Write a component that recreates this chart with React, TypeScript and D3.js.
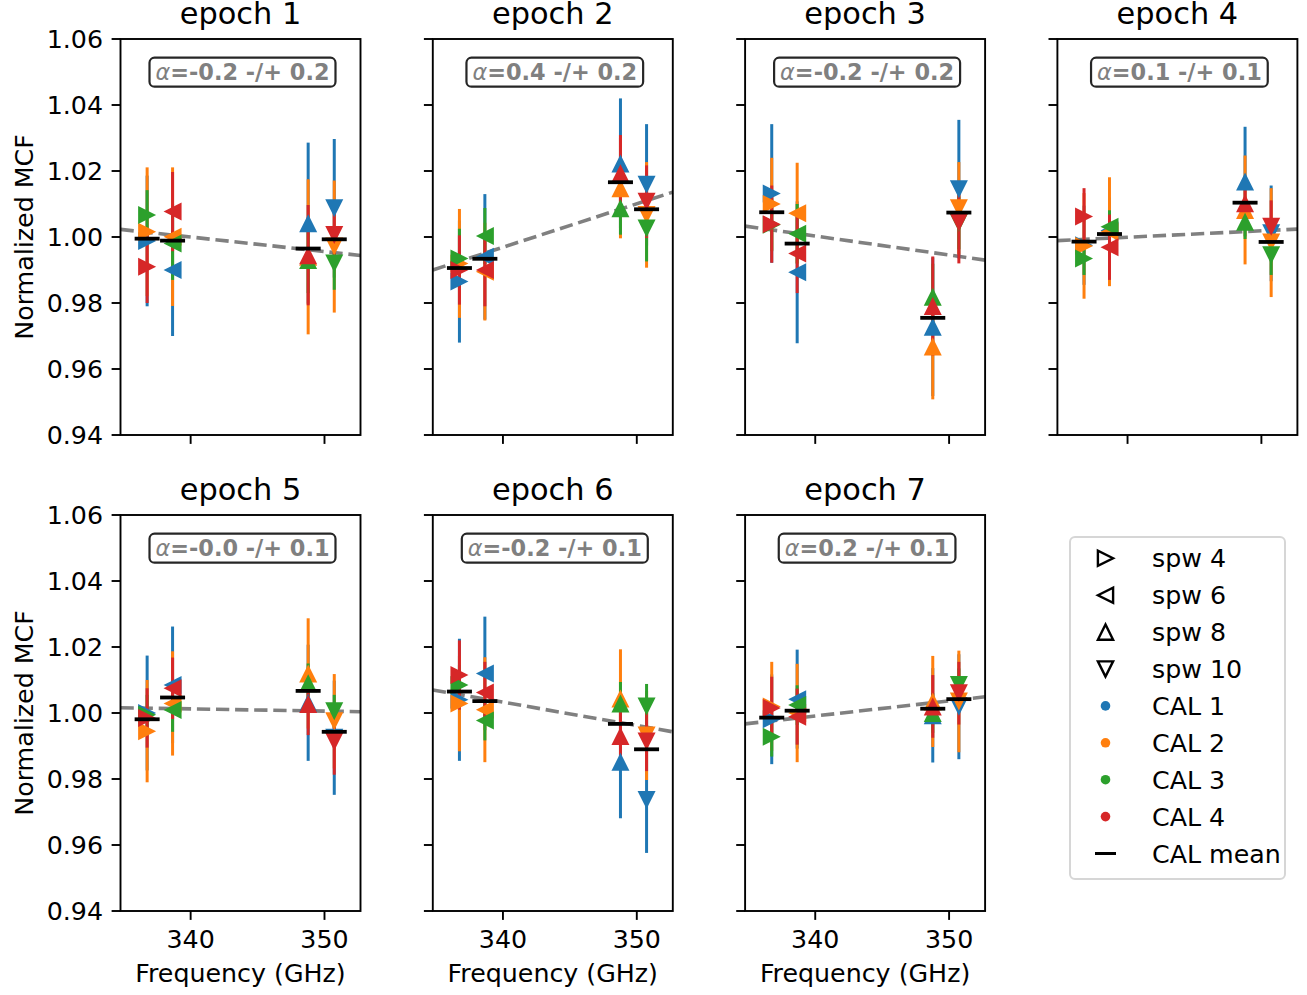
import React, { useLayoutEffect, useRef, useState } from "react";
import * as d3 from "d3";

// ---------- data ----------
const epochNames = ["epoch 1", "epoch 2", "epoch 3", "epoch 4", "epoch 5", "epoch 6", "epoch 7"];
const spwNames = ["spw 4", "spw 6", "spw 8", "spw 10"];
const spwFreqGHz = [336.75, 338.65, 348.78, 350.73];
const spwShapes = ["right", "left", "up", "down"];
const calNames = ["CAL 1", "CAL 2", "CAL 3", "CAL 4"];
const calColors = ["#1f77b4", "#ff7f0e", "#2ca02c", "#d62728"];
const alphaLabels = ["-0.2 -/+ 0.2", "0.4 -/+ 0.2", "-0.2 -/+ 0.2", "0.1 -/+ 0.1", "-0.0 -/+ 0.1", "-0.2 -/+ 0.1", "0.2 -/+ 0.1"];
const xLimits = [334.76, 352.69];
const yLimits = [0.94, 1.06];
const xTicks = [340, 350];
const yTicks = [0.94, 0.96, 0.98, 1.0, 1.02, 1.04, 1.06];
// power-law fit evaluated at the x-axis limits
const fitAtXmin = [1.0023, 0.990, 1.0033, 0.9989, 1.0016, 1.007, 0.9967];
const fitAtXmax = [0.9944, 1.0136, 0.993, 1.0024, 1.0004, 0.9943, 1.0049];

// rows: spw 4, 6, 8, 10 ; columns: CAL 1..4
const mcfEpoch1 = [[0.9988, 1.0016, 1.0067, 0.991], [0.990, 1.0001, 0.998, 1.0077], [1.0042, 0.994, 0.993, 0.9945], [1.0087, 0.9971, 0.992, 1.0006]];
const errEpoch1 = [[0.0198, 0.0195, 0.0075, 0.011], [0.020, 0.021, 0.011, 0.012], [0.0244, 0.0235, 0.010, 0.0152], [0.021, 0.020, 0.008, 0.0076]];
const mcfEpoch2 = [[0.9865, 0.992, 0.9935, 0.990], [0.994, 0.9895, 1.0003, 0.990], [1.0223, 1.0148, 1.0087, 1.0193], [1.0158, 1.0067, 1.0026, 1.0107]];
const errEpoch2 = [[0.0185, 0.0165, 0.009, 0.0105], [0.019, 0.0148, 0.0085, 0.011], [0.0197, 0.0152, 0.008, 0.0116], [0.0184, 0.016, 0.010, 0.011]];
const mcfEpoch3 = [[1.0132, 1.010, 1.0037, 1.0039], [0.9893, 1.0072, 1.001, 0.995], [0.9728, 0.9668, 0.9819, 0.9791], [1.0145, 1.0087, 1.0043, 1.0044]];
const errEpoch3 = [[0.021, 0.014, 0.008, 0.0117], [0.0215, 0.0153, 0.009, 0.012], [0.021, 0.016, 0.010, 0.015], [0.021, 0.014, 0.008, 0.0124]];
const mcfEpoch4 = [[0.9975, 0.9973, 0.9935, 1.0062], [1.002, 1.0016, 1.0031, 0.9969], [1.0168, 1.0082, 1.0046, 1.0102], [1.0011, 0.9983, 0.9945, 1.0031]];
const errEpoch4 = [[0.012, 0.016, 0.005, 0.0086], [0.010, 0.0165, 0.005, 0.0099], [0.0166, 0.0165, 0.0052, 0.007], [0.0145, 0.0165, 0.006, 0.008]];
const mcfEpoch5 = [[1.000, 0.9945, 0.9995, 0.9985], [1.0085, 1.0029, 1.0009, 1.0075], [1.0031, 1.012, 1.009, 1.0027], [0.9925, 0.9975, 1.0005, 0.9913]];
const errEpoch5 = [[0.0174, 0.0155, 0.006, 0.009], [0.0177, 0.0158, 0.0066, 0.0093], [0.0176, 0.0167, 0.006, 0.0094], [0.0173, 0.0143, 0.005, 0.010]];
const mcfEpoch6 = [[1.004, 1.0029, 1.0085, 1.0115], [1.012, 1.001, 0.9977, 1.0062], [0.9852, 1.0044, 1.0029, 0.993], [0.9736, 0.9932, 1.002, 0.9914]];
const errEpoch6 = [[0.0185, 0.0145, 0.006, 0.0105], [0.0172, 0.0159, 0.006, 0.0093], [0.0171, 0.0149, 0.0065, 0.0095], [0.016, 0.0135, 0.0068, 0.009]];
const mcfEpoch7 = [[0.9981, 1.002, 0.9928, 1.0015], [1.0042, 1.000, 1.0024, 0.9989], [0.9993, 1.0035, 1.000, 1.002], [1.0019, 1.0035, 1.0085, 1.006]];
const errEpoch7 = [[0.0136, 0.0135, 0.006, 0.0095], [0.015, 0.0149, 0.006, 0.0085], [0.0143, 0.0138, 0.006, 0.0095], [0.0159, 0.0154, 0.005, 0.0095]];
const calMean = [
  [0.9995, 0.9989, 0.9965, 0.9993],
  [0.9906, 0.9934, 1.0166, 1.0084],
  [1.0075, 0.998, 0.9755, 1.0074],
  [0.9986, 1.0009, 1.0104, 0.9985],
  [0.9981, 1.0047, 1.0067, 0.9943],
  [1.0065, 1.0036, 0.9967, 0.989],
  [0.9986, 1.0007, 1.0013, 1.0042],
];

const mcfByEpoch = [mcfEpoch1, mcfEpoch2, mcfEpoch3, mcfEpoch4, mcfEpoch5, mcfEpoch6, mcfEpoch7];
const errByEpoch = [errEpoch1, errEpoch2, errEpoch3, errEpoch4, errEpoch5, errEpoch6, errEpoch7];

// ---------- layout ----------
const W = 1307;
const H = 995;
const colLefts = [120.5, 432.8, 745.1, 1057.4];
const rowTops = [39, 515];
const PW = 240;
const PH = 396;
const FONT = "DejaVu Sans, Verdana, sans-serif";
const FS = 25.3;
const TICK = 8.9;
const MS = 9; // triangle half-size

function triPath(shape: string, x: number, y: number, s: number) {
  if (shape === "right") return `M${x + s},${y}L${x - s},${y - s}L${x - s},${y + s}Z`;
  if (shape === "left") return `M${x - s},${y}L${x + s},${y - s}L${x + s},${y + s}Z`;
  if (shape === "up") return `M${x},${y - s}L${x - s},${y + s}L${x + s},${y + s}Z`;
  return `M${x},${y + s}L${x - s},${y - s}L${x + s},${y - s}Z`;
}

function AlphaBox({ cx, top, label }: { cx: number; top: number; label: string }) {
  const ref = useRef<SVGTextElement>(null);
  const [bb, setBb] = useState<{ x: number; w: number } | null>(null);
  useLayoutEffect(() => {
    if (ref.current) {
      const b = ref.current.getBBox();
      setBb({ x: b.x, w: b.width });
    }
  }, [label]);
  const padX = 6;
  const boxH = 29;
  const boxTop = top + 18.7;
  return (
    <g>
      {bb && (
        <rect x={bb.x - padX} y={boxTop} width={bb.w + 2 * padX} height={boxH} rx={5} ry={5}
          fill="white" stroke="#262626" strokeWidth={2.2} />
      )}
      <text ref={ref} x={cx} y={boxTop + boxH / 2 + 8} textAnchor="middle" fontFamily={FONT}
        fontSize={22.4} fill="#808080" fontWeight="bold">
        <tspan fontStyle="italic" fontWeight="normal">α</tspan>
        <tspan>={label}</tspan>
      </text>
    </g>
  );
}

function Panel({ idx }: { idx: number }) {
  const col = idx % 4;
  const row = Math.floor(idx / 4);
  const left = colLefts[col];
  const top = rowTops[row];
  const x = d3.scaleLinear().domain(xLimits).range([left, left + PW]);
  const y = d3.scaleLinear().domain(yLimits).range([top + PH, top]);
  const vals = mcfByEpoch[idx];
  const errs = errByEpoch[idx];
  const fitLine = d3.line<[number, number]>().x((d) => x(d[0])).y((d) => y(d[1]));
  const fitPts: [number, number][] = [[xLimits[0], fitAtXmin[idx]], [xLimits[1], fitAtXmax[idx]]];
  const showYLabels = col === 0;
  const showXLabels = row === 1;
  const cx = left + PW / 2;

  return (
    <g>
      <path d={fitLine(fitPts) || ""} fill="none" stroke="#808080" strokeWidth={3.6} strokeDasharray="13.3 5.8" />
      {calNames.map((_, c) =>
        spwFreqGHz.map((f, s) => (
          <line key={`b${c}-${s}`} x1={x(f)} x2={x(f)} y1={y(vals[s][c] - errs[s][c])} y2={y(vals[s][c] + errs[s][c])}
            stroke={calColors[c]} strokeWidth={3} />
        ))
      )}
      {calNames.map((_, c) =>
        spwFreqGHz.map((f, s) => (
          <path key={`m${c}-${s}`} d={triPath(spwShapes[s], x(f), y(vals[s][c]), MS)} fill={calColors[c]} />
        ))
      )}
      {spwFreqGHz.map((f, s) => (
        <line key={`mean${s}`} x1={x(f) - 12.5} x2={x(f) + 12.5} y1={y(calMean[idx][s])} y2={y(calMean[idx][s])}
          stroke="black" strokeWidth={3.8} />
      ))}
      <rect x={left} y={top} width={PW} height={PH} fill="none" stroke="black" strokeWidth={1.9} />
      {yTicks.map((t) => (
        <g key={`yt${t}`}>
          <line x1={left - TICK} x2={left} y1={y(t)} y2={y(t)} stroke="black" strokeWidth={1.9} />
          {showYLabels && (
            <text x={left - TICK - 8.6} y={y(t)} dy="0.36em" textAnchor="end" fontFamily={FONT} fontSize={FS} fill="black">
              {t.toFixed(2)}
            </text>
          )}
        </g>
      ))}
      {xTicks.map((t) => (
        <g key={`xt${t}`}>
          <line x1={x(t)} x2={x(t)} y1={top + PH} y2={top + PH + TICK} stroke="black" strokeWidth={1.9} />
          {showXLabels && (
            <text x={x(t)} y={top + PH + 37} textAnchor="middle" fontFamily={FONT} fontSize={FS} fill="black">
              {t}
            </text>
          )}
        </g>
      ))}
      {showXLabels && (
        <text x={cx} y={top + PH + 71} textAnchor="middle" fontFamily={FONT} fontSize={FS} fill="black">
          Frequency (GHz)
        </text>
      )}
      {showYLabels && (
        <text transform={`translate(32.5,${top + PH / 2}) rotate(-90)`} textAnchor="middle" fontFamily={FONT} fontSize={FS} fill="black">
          Normalized MCF
        </text>
      )}
      <text x={cx} y={top - 15} textAnchor="middle" fontFamily={FONT} fontSize={30.4} fill="black">
        {epochNames[idx]}
      </text>
      <AlphaBox cx={cx + 2} top={top} label={alphaLabels[idx]} />
    </g>
  );
}

function Legend() {
  const lx = 1070;
  const ly = 537;
  const lw = 215;
  const lh = 342;
  const mx = 1105.5;
  const tx = 1152;
  const rowY = (i: number) => 558.3 + i * 36.9;
  const rows: React.ReactNode[] = [];
  spwNames.forEach((n, i) => {
    rows.push(
      <g key={n}>
        <path d={triPath(spwShapes[i], mx, rowY(i), 7.6)} fill="none" stroke="black" strokeWidth={2.4} strokeLinejoin="miter" />
        <text x={tx} y={rowY(i)} dy="0.36em" fontFamily={FONT} fontSize={FS} fill="black">{n}</text>
      </g>
    );
  });
  calNames.forEach((n, i) => {
    const k = i + 4;
    rows.push(
      <g key={n}>
        <circle cx={mx} cy={rowY(k)} r={4.8} fill={calColors[i]} />
        <text x={tx} y={rowY(k)} dy="0.36em" fontFamily={FONT} fontSize={FS} fill="black">{n}</text>
      </g>
    );
  });
  rows.push(
    <g key="mean">
      <line x1={mx - 10.5} x2={mx + 10.5} y1={rowY(8)} y2={rowY(8)} stroke="black" strokeWidth={3} />
      <text x={tx} y={rowY(8)} dy="0.36em" fontFamily={FONT} fontSize={FS} fill="black">CAL mean</text>
    </g>
  );
  return (
    <g>
      <rect x={lx} y={ly} width={lw} height={lh} rx={5} ry={5} fill="white" stroke="#d6d6d6" strokeWidth={2} />
      {rows}
    </g>
  );
}

export default function App() {
  return (
    <svg width={W} height={H} viewBox={`0 0 ${W} ${H}`}
      style={{ position: "absolute", left: 0, top: 0, display: "block", background: "white" }}>
      <rect x={0} y={0} width={W} height={H} fill="white" />
      {epochNames.map((_, i) => (
        <Panel key={i} idx={i} />
      ))}
      <Legend />
    </svg>
  );
}
